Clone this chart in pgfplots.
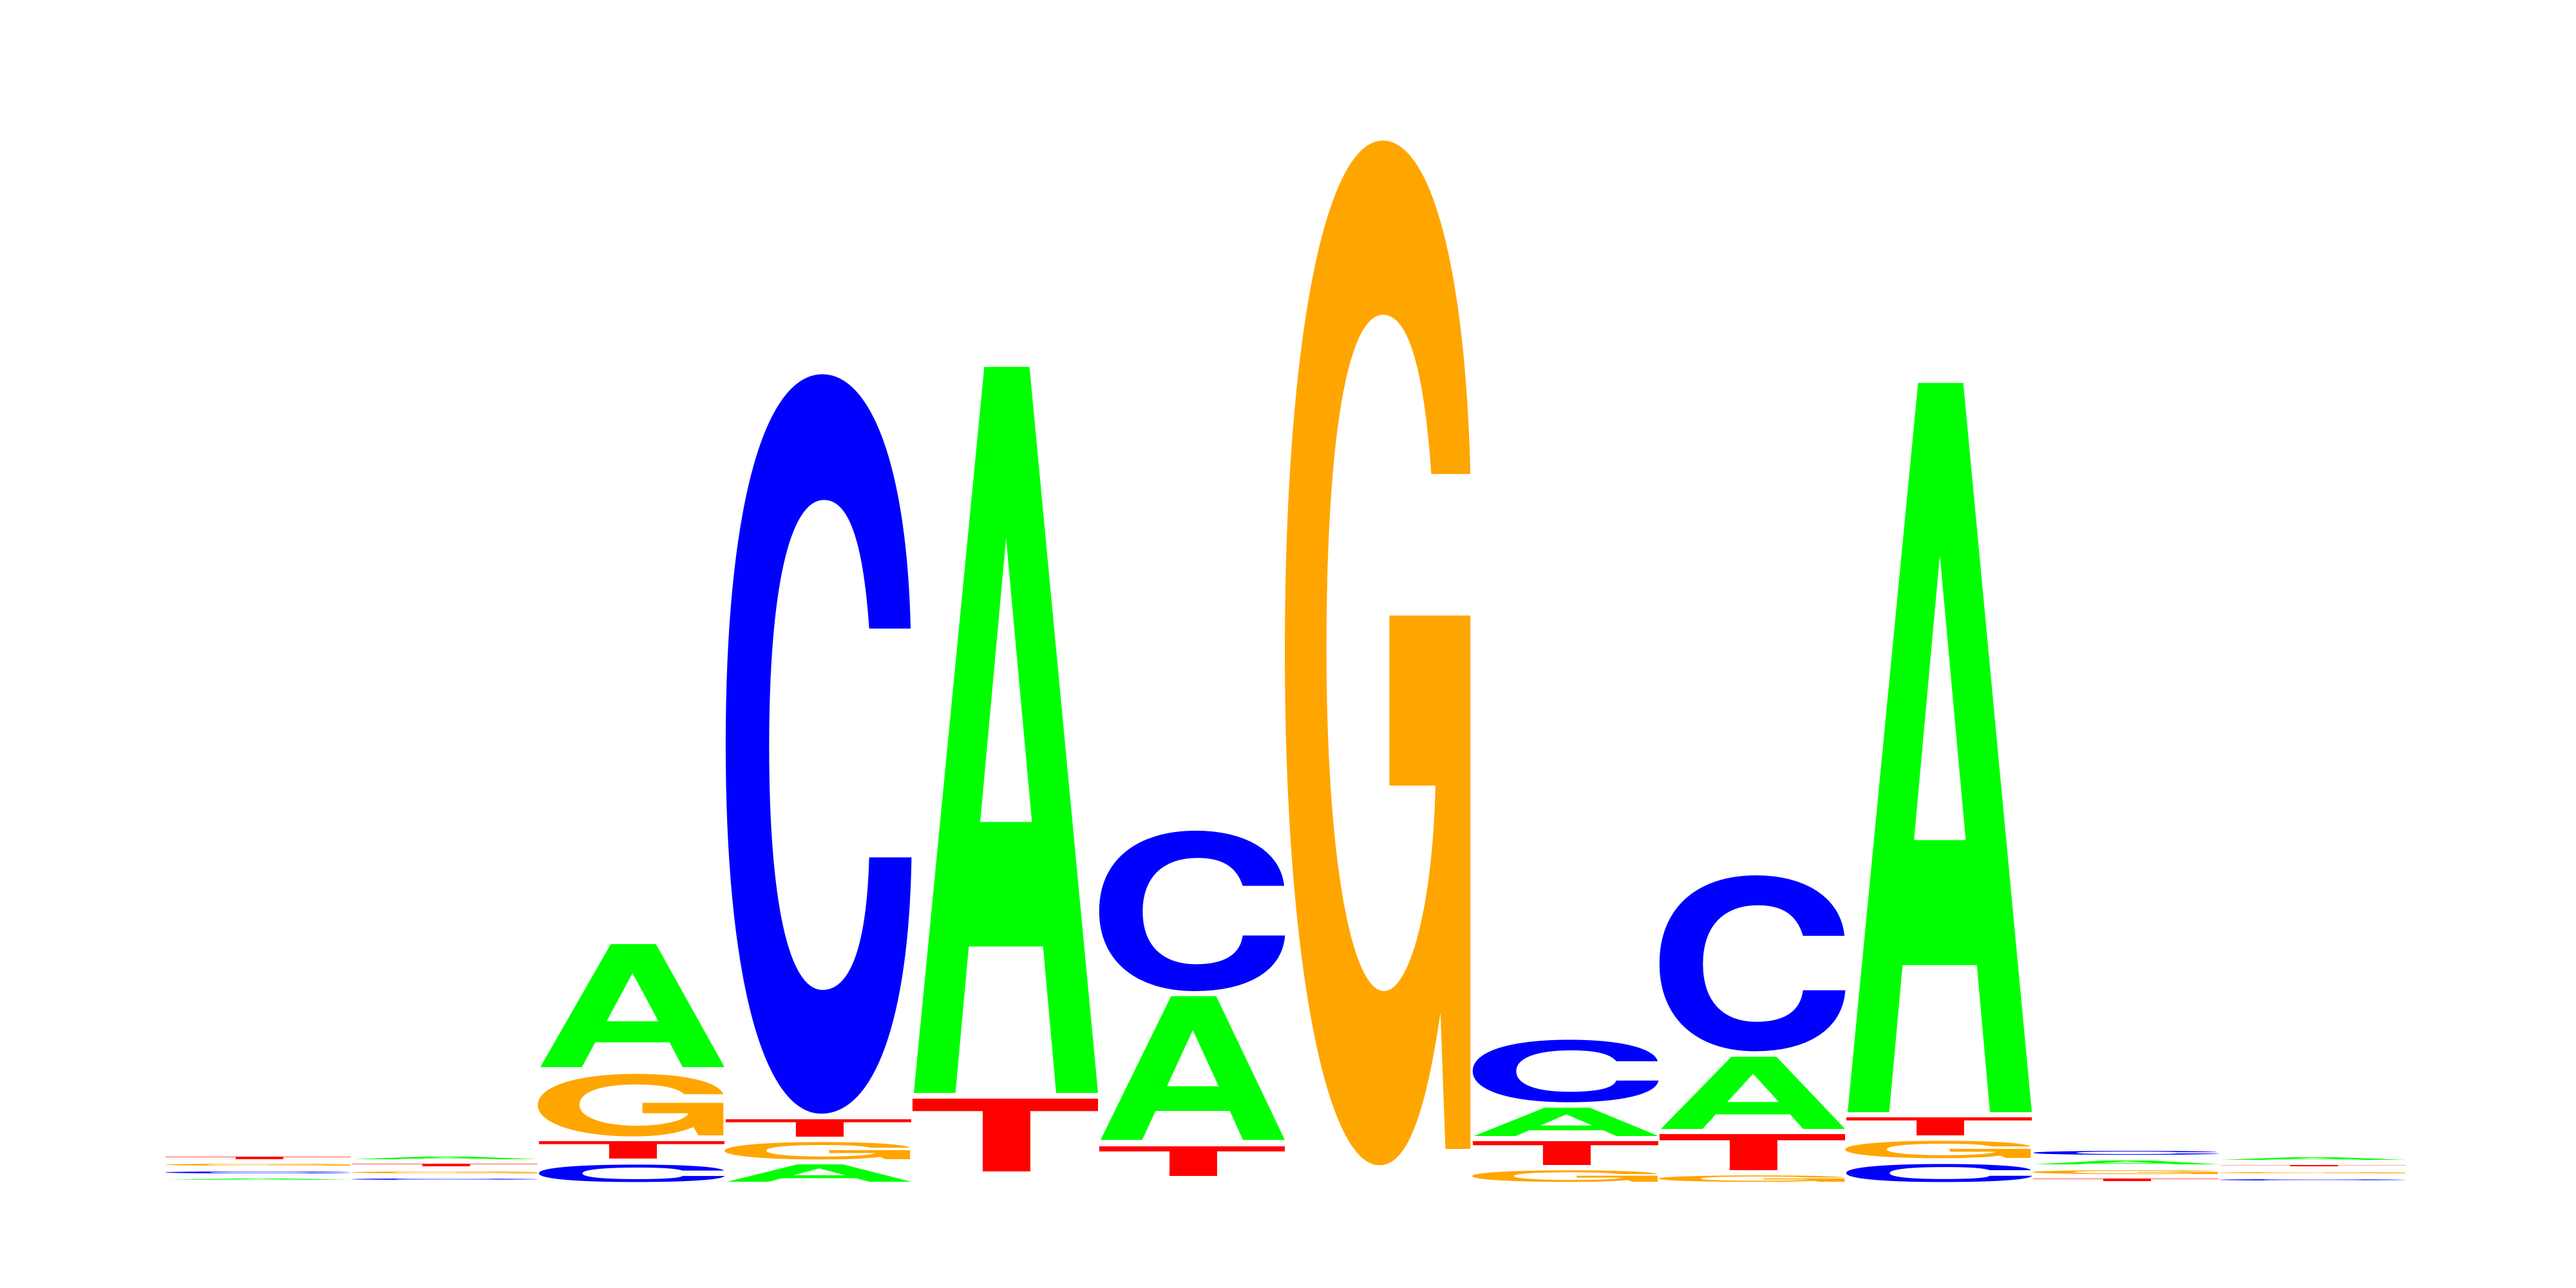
\documentclass[border=0pt]{standalone}
\usepackage{fontspec}
\setmainfont{TeX Gyre Heros}
\usepackage{graphicx}
\usepackage{pgfplots}
\usepackage{pgfplotstable}
\pgfplotsset{compat=1.18}

\definecolor{nucA}{HTML}{00FF00}
\definecolor{nucC}{HTML}{0000FF}
\definecolor{nucG}{HTML}{FFA500}
\definecolor{nucT}{HTML}{FF0000}

% position, bottom of letter (bits), letter height (bits)
\pgfplotstableread{
pos y0 h
1 0.0038 0.0025
2 0.0450 0.0050
3 0.2250 0.2388
4 0.0025 0.0338
5 0.1750 1.4075
6 0.0838 0.2788
8 0.0913 0.0550
9 0.1050 0.1400
10 0.1375 1.4138
11 0.0363 0.0075
12 0.0438 0.0050
}\tblA
\pgfplotstableread{
pos y0 h
1 0.0163 0.0038
2 0.0038 0.0025
3 0.0025 0.0338
4 0.1350 1.4325
6 0.3725 0.3113
8 0.1575 0.1213
9 0.2563 0.3413
10 0.0025 0.0350
11 0.0550 0.0075
12 0.0025 0.0025
}\tblC
\pgfplotstableread{
pos y0 h
1 0.0313 0.0038
2 0.0163 0.0038
3 0.0913 0.1213
4 0.0463 0.0338
7 0.0350 1.9850
8 0.0025 0.0225
9 0.0025 0.0125
10 0.0488 0.0338
11 0.0175 0.0075
12 0.0163 0.0025
}\tblG
\pgfplotstableread{
pos y0 h
1 0.0450 0.0050
2 0.0313 0.0050
3 0.0475 0.0338
4 0.0900 0.0338
5 0.0225 0.1413
6 0.0138 0.0575
8 0.0350 0.0463
9 0.0250 0.0700
10 0.0925 0.0350
11 0.0025 0.0050
12 0.0300 0.0025
}\tblT

% one bit is 4cm high on the page; box widths allow for side bearings
\pgfplotsset{
  logo letter/.style n args={4}{
    draw=none, mark=none,
    point meta=explicit symbolic,
    nodes near coords={\pgfmathsetmacro\hc{4*\pgfplotspointmeta}\resizebox*{#2}{\hc cm}{\bfseries #1}},
    every node near coord/.append style={anchor=south, inner sep=0pt, outer sep=0pt, text=#3, xshift=#4},
  },
}

\begin{document}
\begin{tikzpicture}
\begin{axis}[
  scale only axis,
  width=20cm, height=10cm,
  xmin=-0.3828, xmax=13.4103,
  ymin=-0.2025, ymax=2.2975,
  axis line style={draw=none},
  ticks=none,
  clip=false,
]
\addplot[logo letter={A}{1.525cm}{nucA}{0cm}] table[x=pos, y=y0, meta=h] {\tblA};
\addplot[logo letter={C}{1.625cm}{nucC}{-0.006cm}] table[x=pos, y=y0, meta=h] {\tblC};
\addplot[logo letter={G}{1.675cm}{nucG}{0.022cm}] table[x=pos, y=y0, meta=h] {\tblG};
\addplot[logo letter={T}{1.507cm}{nucT}{0cm}] table[x=pos, y=y0, meta=h] {\tblT};
\end{axis}
\end{tikzpicture}
\end{document}
